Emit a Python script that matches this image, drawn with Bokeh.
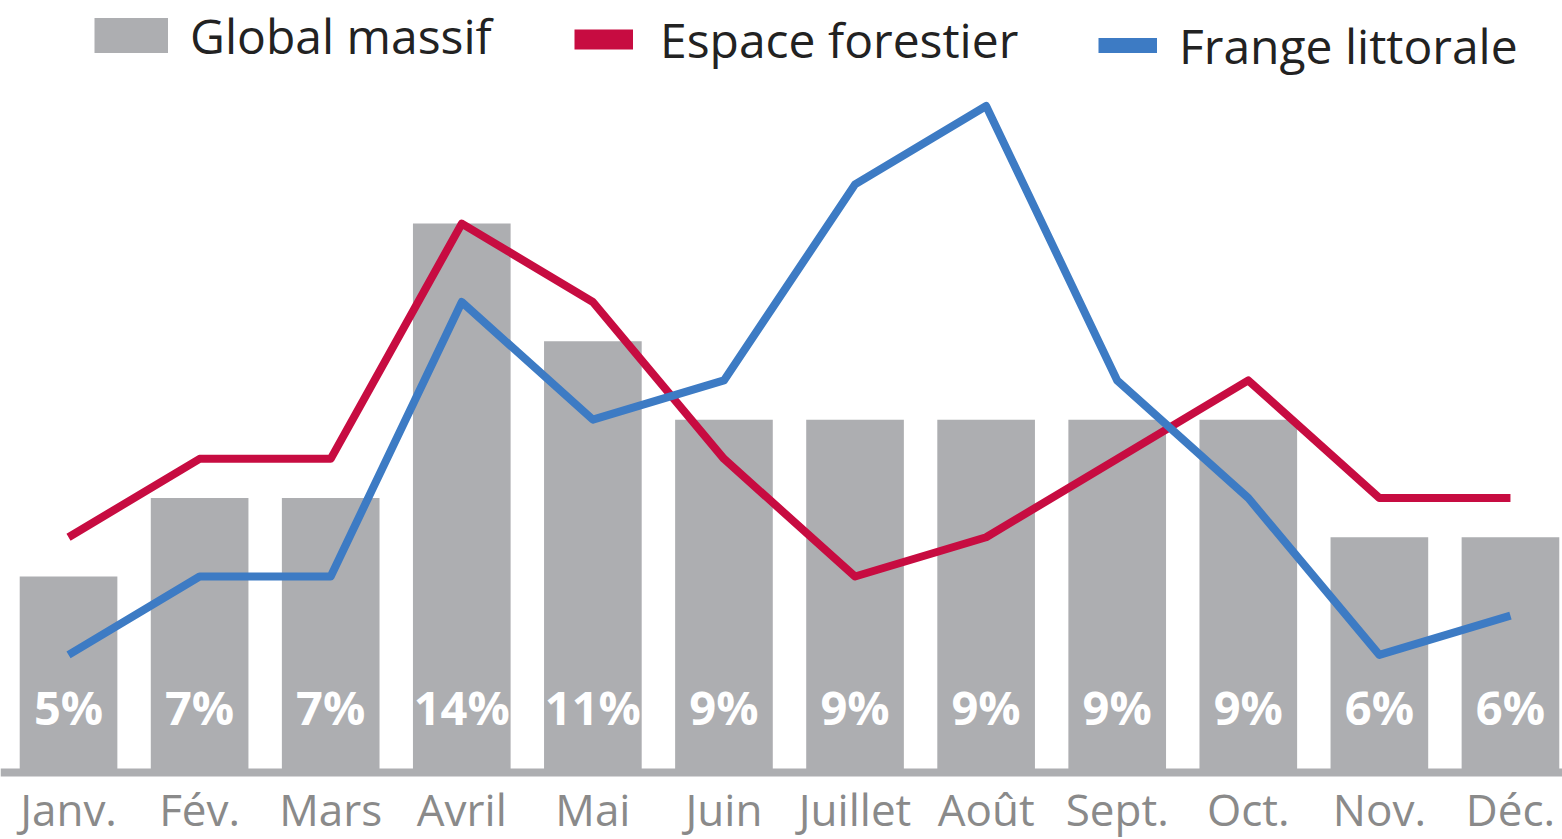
from bokeh.plotting import figure
from bokeh.models import Range1d, Legend, LegendItem, ColumnDataSource, LabelSet, Span
from bokeh.embed import file_html
from bokeh.resources import INLINE
from bokeh.core.properties import value

months = ["Janv.", "Fév.", "Mars", "Avril", "Mai", "Juin", "Juillet", "Août", "Sept.", "Oct.", "Nov.", "Déc."]
global_massif = [5, 7, 7, 14, 11, 9, 9, 9, 9, 9, 6, 6]
espace_forestier = [6, 8, 8, 14, 12, 8, 5, 6, 8, 10, 7, 7]
frange_littorale = [3, 5, 5, 12, 9, 10, 15, 17, 10, 7, 3, 4]

GRAY = "#ADAEB1"
RED = "#C70C41"
BLUE = "#3D7BC4"
FONT = "Open Sans"

n = len(months)
xs = list(range(n))
src = ColumnDataSource(dict(
    x=xs,
    g=global_massif,
    e=espace_forestier,
    f=frange_littorale,
    lbl=[f"{v}%" for v in global_massif],
    ly=[1.66] * n,
    month=months,
    my=[-0.93] * n,
))

p = figure(width=1562, height=839, output_backend="svg", toolbar_location=None,
           x_range=Range1d(-0.519, 11.397), y_range=Range1d(-1.709, 19.69),
           x_axis_location=None, y_axis_location=None,
           min_border_left=0, min_border_right=0, min_border_top=0, min_border_bottom=0)
p.outline_line_color = None
p.xgrid.grid_line_color = None
p.ygrid.grid_line_color = None
p.background_fill_color = "white"
p.border_fill_color = "white"

bars = p.vbar(x="x", top="g", bottom=0, width=0.745, source=src,
              fill_color=GRAY, line_color=None)
labels = LabelSet(x="x", y="ly", text="lbl", source=src, text_align="center",
                  text_baseline="middle", text_color="white",
                  text_font=value(FONT), text_font_style="bold", text_font_size="47px")
p.add_layout(labels)

# baseline (x axis line)
p.add_layout(Span(location=0, dimension="width", line_color=GRAY, line_width=8))

# month labels
p.text(x="x", y="my", text="month", source=src, text_align="center",
       text_baseline="middle", text_font=value(FONT), text_font_size="44px",
       text_color="#8A8A8A")

p.line(x="x", y="e", source=src, line_color=RED, line_width=8, line_join="round")
p.line(x="x", y="f", source=src, line_color=BLUE, line_width=8, line_join="round")

# legend swatches: hidden renderers on the same data, drawn only in the legends
sw_g = p.line(x="x", y="g", source=src, line_color=GRAY, line_width=35, visible=False)
sw_r = p.line(x="x", y="e", source=src, line_color=RED, line_width=20, visible=False)
sw_b = p.line(x="x", y="f", source=src, line_color=BLUE, line_width=15, visible=False)

def make_legend(label, rend, loc, gw, standoff):
    lg = Legend(items=[LegendItem(label=label, renderers=[rend])], location=loc,
                orientation="horizontal", glyph_width=gw, glyph_height=70,
                label_standoff=standoff, label_text_font=FONT,
                label_text_font_size="48px", label_text_color="#222222",
                padding=0, margin=0, spacing=0, border_line_alpha=0,
                background_fill_alpha=0, label_height=70)
    p.add_layout(lg, "center")

make_legend("Global massif", sw_g, (94, 769), 74, 22)
make_legend("Espace forestier", sw_r, (574, 765), 59, 27)
make_legend("Frange littorale", sw_b, (1098, 759), 59, 22)

open("out.html", "w").write(file_html(p, INLINE))
